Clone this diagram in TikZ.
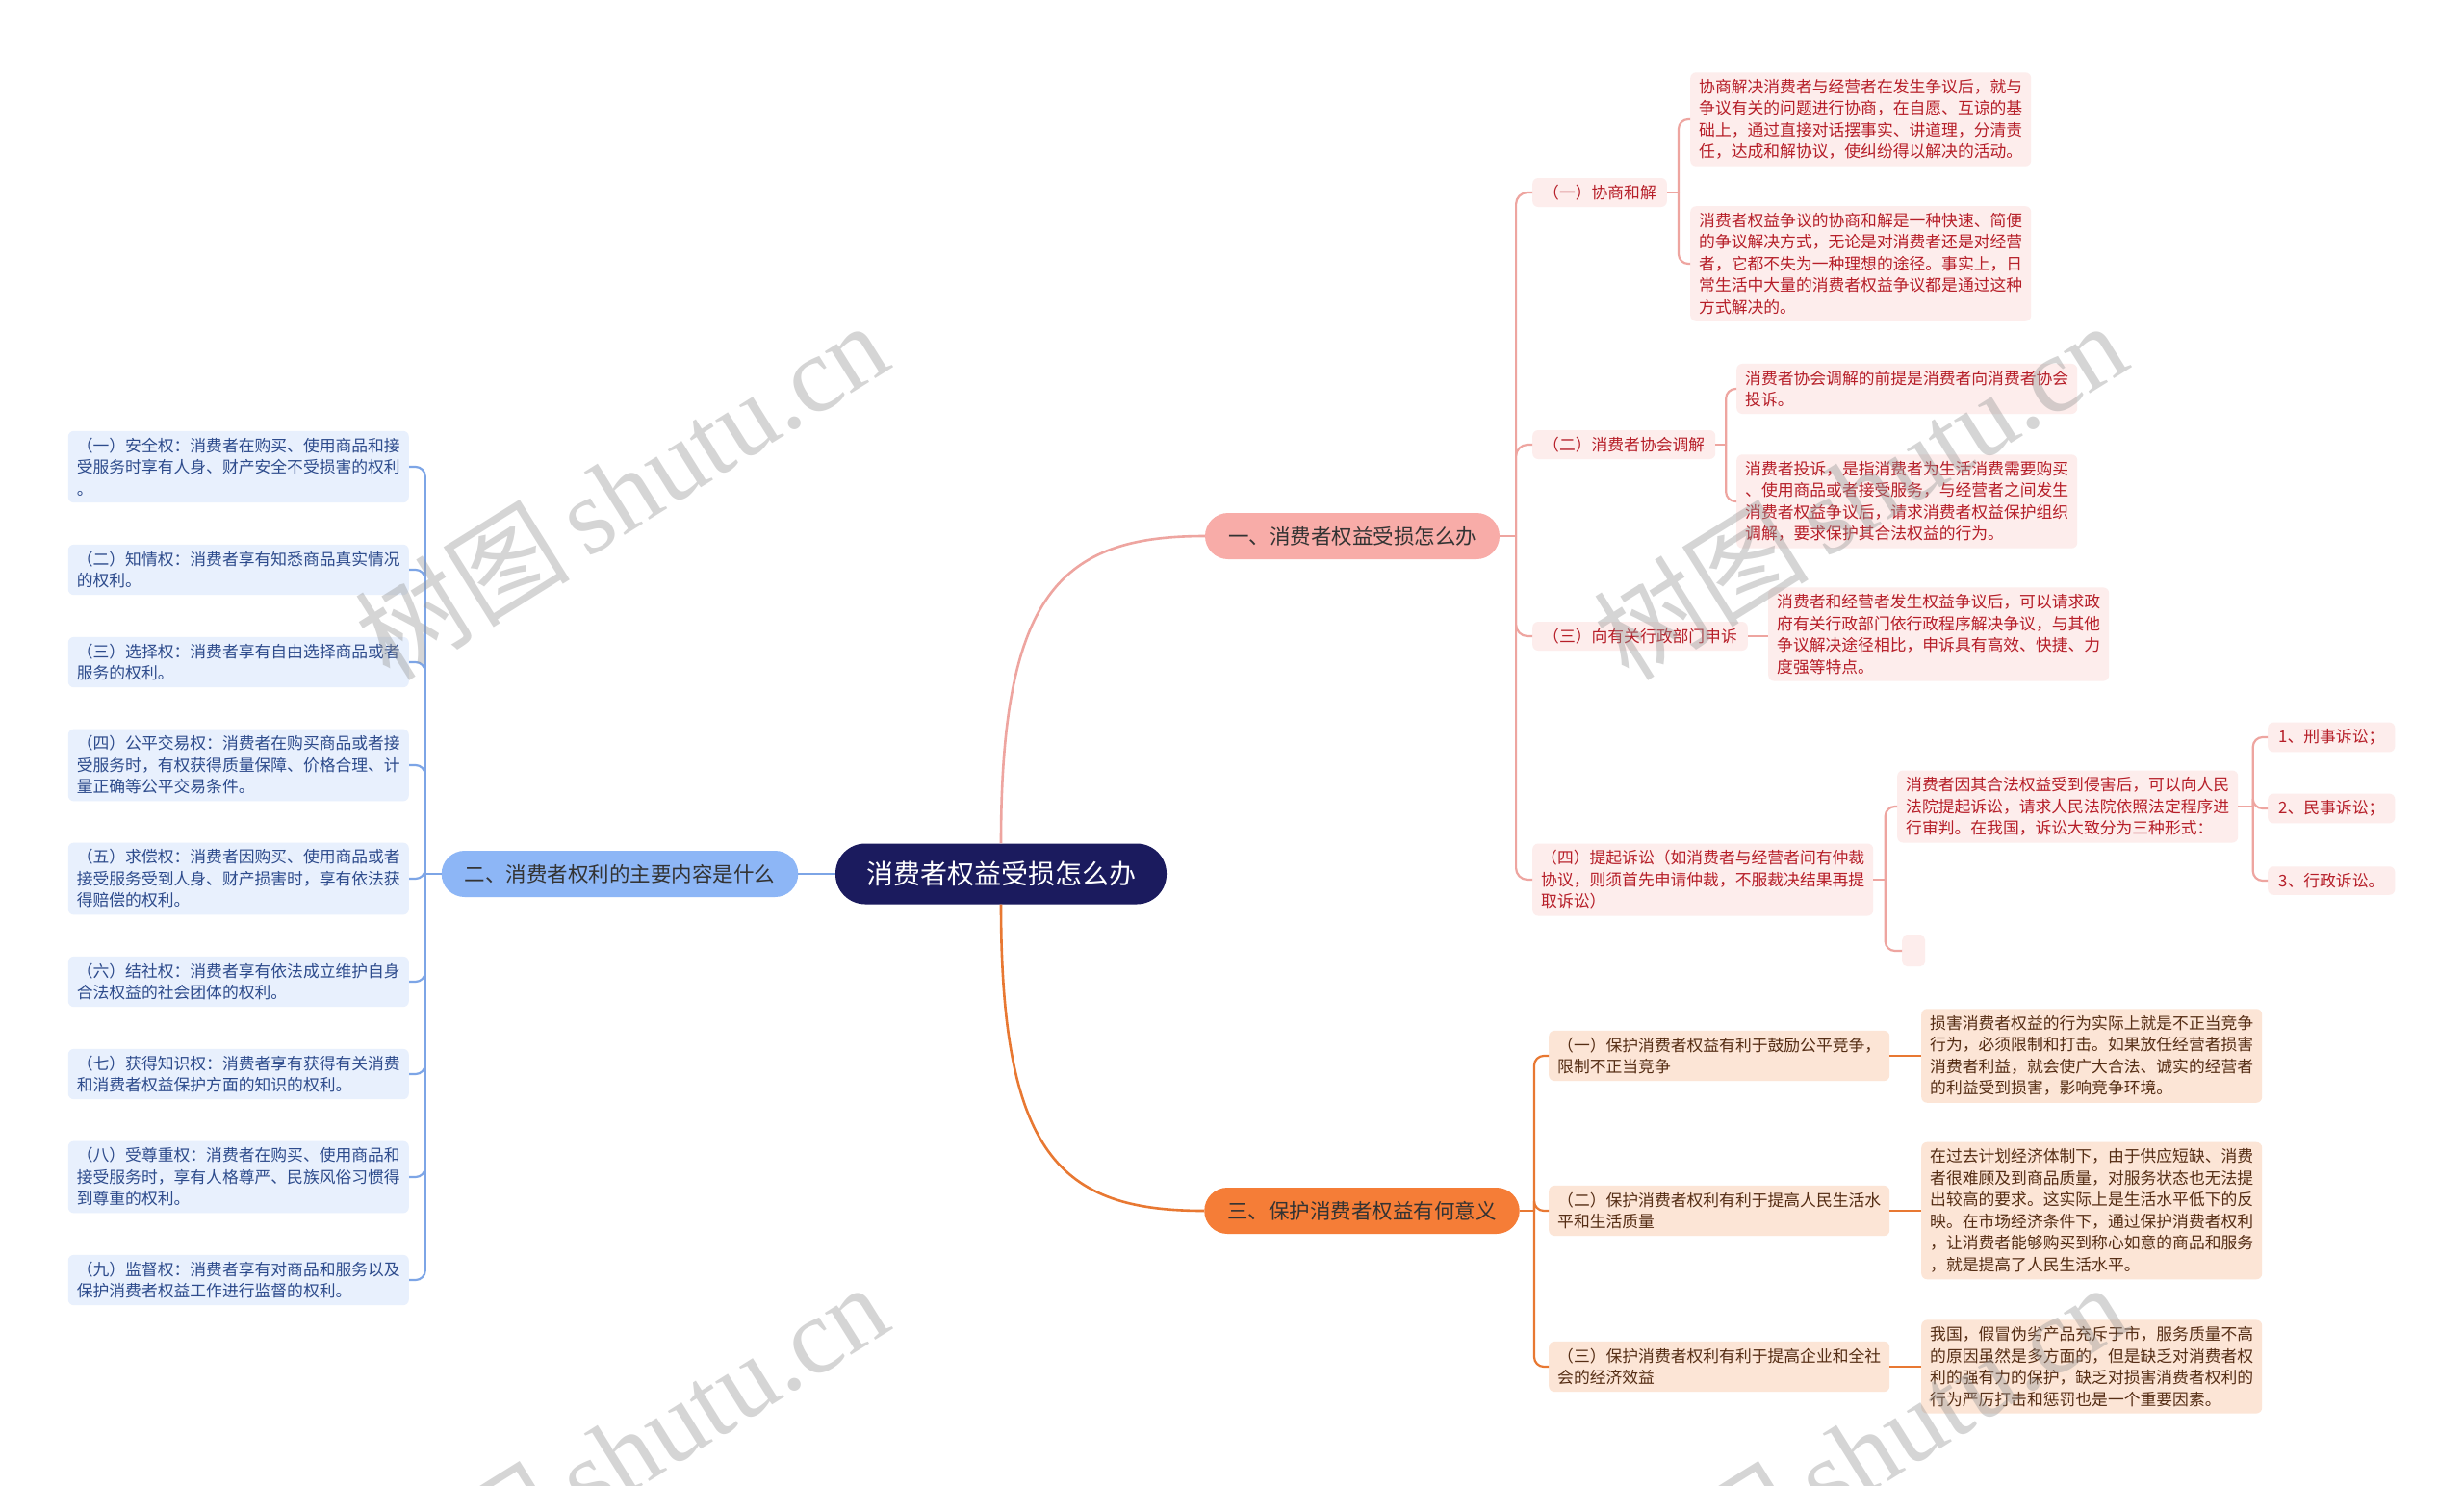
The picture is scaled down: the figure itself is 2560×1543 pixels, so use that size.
\documentclass[tikz,border=0pt]{standalone}
\usepackage{fontspec}
\newfontfamily\cjk{Noto Sans CJK SC}
\newfontfamily\wmlatin{Liberation Serif}
\usetikzlibrary{calc}
\definecolor{rootc}{RGB}{27,27,94}
\definecolor{pinkfill}{RGB}{248,172,168}
\definecolor{bluefill}{RGB}{141,182,246}
\definecolor{orfill}{RGB}{245,125,55}
\definecolor{pinkbg}{RGB}{253,237,236}
\definecolor{bluebg}{RGB}{232,240,253}
\definecolor{orbg}{RGB}{252,229,214}
\definecolor{redtext}{RGB}{182,30,40}
\definecolor{bluetext}{RGB}{45,75,140}
\definecolor{browntext}{RGB}{85,45,20}
\definecolor{darktext}{RGB}{51,51,51}
\definecolor{pinkline}{RGB}{238,165,160}
\definecolor{blueline}{RGB}{125,165,230}
\definecolor{orline}{RGB}{232,120,50}
\definecolor{wmgray}{RGB}{150,150,150}
\begin{document}
\begin{tikzpicture}[x=1pt,y=-1pt,
  rootnode/.style={fill=rootc,text=white,rounded corners=31,minimum height=63,inner xsep=32,font=\cjk\fontsize{28}{32}\selectfont},
  brnode/.style={rounded corners=24,minimum height=48,inner xsep=24,text=darktext,font=\cjk\fontsize{21.5}{26}\selectfont},
  leaf/.style={rounded corners=6,inner xsep=9,inner ysep=7,align=left,anchor=west,font=\cjk\fontsize{16.8}{22.5}\selectfont},
  redleaf/.style={leaf,fill=pinkbg,text=redtext},
  blueleaf/.style={leaf,fill=bluebg,text=bluetext},
  orleaf/.style={leaf,fill=orbg,text=browntext},
  pinkcon/.style={draw=pinkline,line width=2.2},
  bluecon/.style={draw=blueline,line width=2.2},
  orcon/.style={draw=orline,line width=2.2},
  wm/.style={rotate=32,text=wmgray,opacity=0.4}
]
\useasboundingbox (0,0) rectangle (2560,1543);
\fill[white] (0,0) rectangle (2560,1543);

% root and branches
\node[rootnode] (root) at (1040,908) {消费者权益受损怎么办};
\node[brnode,fill=pinkfill] (b1) at (1405,557) {一、消费者权益受损怎么办};
\node[brnode,fill=bluefill] (b2) at (644,908) {二、消费者权利的主要内容是什么};
\node[brnode,fill=orfill] (b3) at (1415,1258) {三、保护消费者权益有何意义};

% branch 1 children
\node[redleaf,inner xsep=11] (c1) at (1592,200) {（一）协商和解};
\node[redleaf] (l1a) at (1756,124) {协商解决消费者与经营者在发生争议后，就与\\争议有关的问题进行协商，在自愿、互谅的基\\础上，通过直接对话摆事实、讲道理，分清责\\任，达成和解协议，使纠纷得以解决的活动。};
\node[redleaf] (l1b) at (1756,274) {消费者权益争议的协商和解是一种快速、简便\\的争议解决方式，无论是对消费者还是对经营\\者，它都不失为一种理想的途径。事实上，日\\常生活中大量的消费者权益争议都是通过这种\\方式解决的。};
\node[redleaf,inner xsep=11] (c2) at (1592,462) {（二）消费者协会调解};
\node[redleaf] (l2a) at (1804,404) {消费者协会调解的前提是消费者向消费者协会\\投诉。};
\node[redleaf] (l2b) at (1804,521) {消费者投诉，是指消费者为生活消费需要购买\\、使用商品或者接受服务，与经营者之间发生\\消费者权益争议后，请求消费者权益保护组织\\调解，要求保护其合法权益的行为。};
\node[redleaf,inner xsep=11] (c3) at (1592,661) {（三）向有关行政部门申诉};
\node[redleaf] (l3) at (1837,659) {消费者和经营者发生权益争议后，可以请求政\\府有关行政部门依行政程序解决争议，与其他\\争议解决途径相比，申诉具有高效、快捷、力\\度强等特点。};
\node[redleaf] (c4) at (1592,914) {（四）提起诉讼（如消费者与经营者间有仲裁\\协议，则须首先申请仲裁，不服裁决结果再提\\取诉讼）};
\node[redleaf] (l4) at (1971,838) {消费者因其合法权益受到侵害后，可以向人民\\法院提起诉讼，请求人民法院依照法定程序进\\行审判。在我国，诉讼大致分为三种形式：};
\node[fill=pinkbg,rounded corners=5,minimum width=24,minimum height=32,anchor=west,inner sep=0] (l4b) at (1976,988) {};
\node[redleaf,inner xsep=11] (k1) at (2356,766) {1、刑事诉讼；};
\node[redleaf,inner xsep=11] (k2) at (2356,840) {2、民事诉讼；};
\node[redleaf,inner xsep=11] (k3) at (2356,915) {3、行政诉讼。};

% branch 2 children
\tikzset{lcol/.style={blueleaf,anchor=east}}
\node[lcol] (L1) at (425,485) {（一）安全权：消费者在购买、使用商品和接\\受服务时享有人身、财产安全不受损害的权利\\。};
\node[lcol] (L2) at (425,592) {（二）知情权：消费者享有知悉商品真实情况\\的权利。};
\node[lcol] (L3) at (425,688) {（三）选择权：消费者享有自由选择商品或者\\服务的权利。};
\node[lcol] (L4) at (425,795) {（四）公平交易权：消费者在购买商品或者接\\受服务时，有权获得质量保障、价格合理、计\\量正确等公平交易条件。};
\node[lcol] (L5) at (425,913) {（五）求偿权：消费者因购买、使用商品或者\\接受服务受到人身、财产损害时，享有依法获\\得赔偿的权利。};
\node[lcol] (L6) at (425,1020) {（六）结社权：消费者享有依法成立维护自身\\合法权益的社会团体的权利。};
\node[lcol] (L7) at (425,1116) {（七）获得知识权：消费者享有获得有关消费\\和消费者权益保护方面的知识的权利。};
\node[lcol] (L8) at (425,1223) {（八）受尊重权：消费者在购买、使用商品和\\接受服务时，享有人格尊严、民族风俗习惯得\\到尊重的权利。};
\node[lcol] (L9) at (425,1330) {（九）监督权：消费者享有对商品和服务以及\\保护消费者权益工作进行监督的权利。};

% branch 3 children
\node[orleaf] (d1) at (1609,1097) {（一）保护消费者权益有利于鼓励公平竞争，\\限制不正当竞争};
\node[orleaf] (e1) at (1996,1097) {损害消费者权益的行为实际上就是不正当竞争\\行为，必须限制和打击。如果放任经营者损害\\消费者利益，就会使广大合法、诚实的经营者\\的利益受到损害，影响竞争环境。};
\node[orleaf] (d2) at (1609,1258) {（二）保护消费者权利有利于提高人民生活水\\平和生活质量};
\node[orleaf] (e2) at (1996,1258) {在过去计划经济体制下，由于供应短缺、消费\\者很难顾及到商品质量，对服务状态也无法提\\出较高的要求。这实际上是生活水平低下的反\\映。在市场经济条件下，通过保护消费者权利\\，让消费者能够购买到称心如意的商品和服务\\，就是提高了人民生活水平。};
\node[orleaf] (d3) at (1609,1420) {（三）保护消费者权利有利于提高企业和全社\\会的经济效益};
\node[orleaf] (e3) at (1996,1420) {我国，假冒伪劣产品充斥于市，服务质量不高\\的原因虽然是多方面的，但是缺乏对消费者权\\利的强有力的保护，缺乏对损害消费者权利的\\行为严厉打击和惩罚也是一个重要因素。};

% root connectors
\draw[pinkcon,line width=2.6] (root.north) .. controls ($(root.north)+(0,-260)$) and ($(b1.west)+(-150,0)$) .. (b1.west);
\draw[orcon,line width=2.6] (root.south) .. controls ($(root.south)+(0,260)$) and ($(b3.west)+(-150,0)$) .. (b3.west);
\draw[bluecon,line width=2.6] (root.west) -- (b2.east);

% forks
\path (b1.east) -- (c1.west |- b1.east) coordinate[pos=.5] (j1);
\draw[pinkcon] (b1.east) -- (j1);
\foreach \c in {c1,c2,c3,c4} \draw[pinkcon,rounded corners=12] (j1) |- (\c.west);

\path (c1.east) -- (l1a.west |- c1.east) coordinate[pos=.5] (j11);
\draw[pinkcon] (c1.east) -- (j11);
\foreach \c in {l1a,l1b} \draw[pinkcon,rounded corners=10] (j11) |- (\c.west);

\path (c2.east) -- (l2a.west |- c2.east) coordinate[pos=.5] (j12);
\draw[pinkcon] (c2.east) -- (j12);
\foreach \c in {l2a,l2b} \draw[pinkcon,rounded corners=10] (j12) |- (\c.west);

\draw[pinkcon] (c3.east) -- (l3.west |- c3.east);

\path (c4.east) -- (l4.west |- c4.east) coordinate[pos=.5] (j14);
\draw[pinkcon] (c4.east) -- (j14);
\foreach \c in {l4,l4b} \draw[pinkcon,rounded corners=10] (j14) |- (\c.west);

\path (l4.east) -- (k1.west |- l4.east) coordinate[pos=.5] (j15);
\draw[pinkcon] (l4.east) -- (j15);
\foreach \c in {k1,k2,k3} \draw[pinkcon,rounded corners=10] (j15) |- (\c.west);

\path (b2.west) -- (L1.east |- b2.west) coordinate[pos=.5] (j2);
\draw[bluecon] (b2.west) -- (j2);
\foreach \c in {L1,L2,L3,L4,L5,L6,L7,L8,L9} \draw[bluecon,rounded corners=10] (j2) |- (\c.east);

\path (b3.east) -- (d1.west |- b3.east) coordinate[pos=.5] (j3);
\draw[orcon] (b3.east) -- (j3);
\foreach \c in {d1,d2,d3} \draw[orcon,rounded corners=10] (j3) |- (\c.west);
\draw[orcon] (d1.east) -- (e1.west);
\draw[orcon] (d2.east) -- (e2.west);
\draw[orcon] (d3.east) -- (e3.west);

% watermarks
\begin{scope}
\clip (0,0) rectangle (2560,1543);
\foreach \p in {(645,509),(1932,509),(645,1508),(1932,1508)}
  \node[wm] at \p {\cjk\fontsize{112}{120}\selectfont 树图\,\wmlatin shutu.cn};
\end{scope}
\end{tikzpicture}
\end{document}
